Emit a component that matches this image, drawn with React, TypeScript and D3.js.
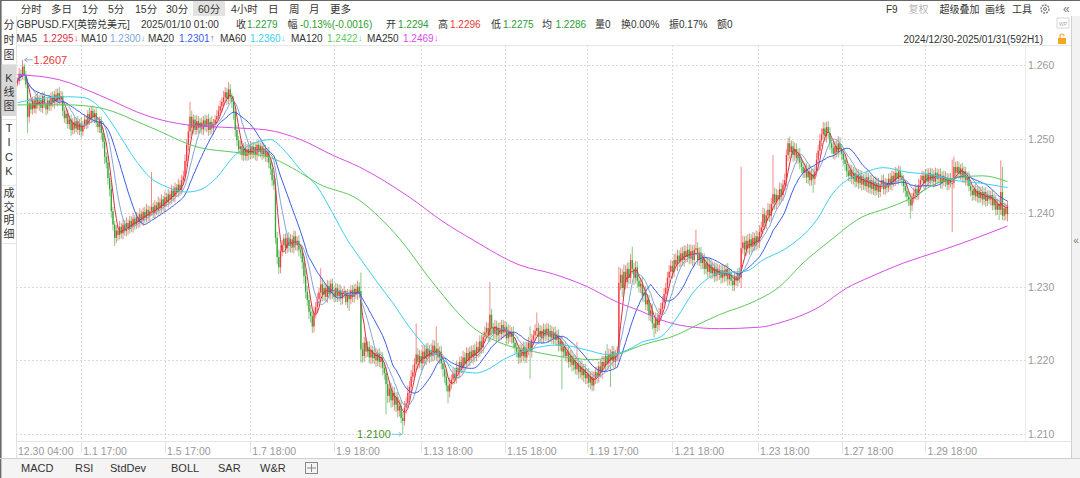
import React from 'react';
import * as d3 from 'd3';

// ---------- DATA (prices in pips above 1.2000, i.e. 1.2 + p/10000) ----------
const firstOpenPip = 575;
const closePips = [
  578, 588, 584, 598, 586, 574, 530, 548, 540, 552,
  541, 556, 546, 553, 542, 558, 547, 540, 552, 545,
  557, 549, 560, 551, 562, 553, 558, 538, 528, 534,
  520, 526, 512, 522, 514, 524, 512, 521, 510, 518,
  526, 520, 534, 527, 538, 529, 535, 522, 516, 524,
  508, 496, 476, 468, 447, 432, 402, 384, 366, 376,
  370, 381, 372, 384, 375, 386, 378, 389, 381, 392,
  384, 394, 387, 398, 390, 401, 393, 404, 396, 402,
  408, 399, 410, 403, 414, 406, 418, 409, 421, 414,
  425, 418, 430, 422, 434, 428, 438, 431, 444, 449,
  470, 492, 510, 530, 515, 526, 512, 524, 515, 522,
  513, 525, 516, 527, 512, 523, 514, 520, 526, 531,
  538, 544, 550, 556, 563, 554, 567, 556, 550, 536,
  512, 498, 486, 490, 478, 488, 477, 486, 479, 490,
  480, 489, 478, 492, 482, 490, 479, 487, 476, 482,
  468, 460, 444, 438, 366, 340, 326, 348, 356, 365,
  352, 366, 355, 364, 353, 368, 356, 362, 350, 346,
  333, 314, 293, 282, 266, 260, 246, 264, 272, 283,
  292, 303, 289, 298, 286, 301, 290, 304, 292, 286,
  298, 287, 295, 284, 291, 294, 279, 290, 283, 295,
  286, 297, 290, 300, 294, 215, 206, 224, 212, 218,
  204, 214, 203, 210, 200, 209, 198, 205, 190, 183,
  168, 152, 162, 146, 156, 140, 150, 132, 138, 122,
  118, 136, 142, 156, 164, 178, 184, 195, 208, 198,
  206, 196, 212, 202, 216, 205, 214, 206, 220, 208,
  216, 204, 212, 196, 188, 178, 166, 158, 168, 174,
  182, 176, 190, 184, 198, 190, 204, 196, 210, 200,
  212, 204, 214, 206, 218, 212, 226, 218, 232, 238,
  244, 234, 262, 244, 236, 246, 234, 244, 236, 248,
  238, 245, 230, 240, 232, 238, 224, 218, 212, 204,
  214, 206, 218, 204, 216, 224, 212, 228, 234, 240,
  244, 232, 240, 230, 242, 234, 243, 232, 240, 230,
  238, 228, 234, 220, 226, 212, 218, 206, 212, 198,
  206, 194, 200, 188, 196, 184, 192, 180, 188, 176,
  182, 170, 178, 166, 176, 184, 178, 192, 184, 198,
  192, 206, 196, 208, 200, 212, 198, 206, 210, 305,
  316, 298, 320, 306, 324, 312, 336, 324, 312, 326,
  308, 300, 304, 288, 292, 276, 282, 262, 268, 250,
  244, 256, 248, 262, 270, 278, 290, 298, 312, 320,
  328, 320, 336, 330, 342, 334, 345, 336, 348, 340,
  350, 338, 348, 336, 350, 352, 336, 346, 332, 338,
  324, 332, 320, 330, 318, 326, 314, 324, 316, 322,
  312, 322, 314, 324, 310, 318, 308, 302, 314, 308,
  318, 312, 352, 360, 350, 362, 352, 364, 354, 366,
  356, 368, 360, 374, 380, 398, 386, 396, 404, 396,
  412, 425, 414, 424, 418, 432, 424, 438, 444, 478,
  494, 482, 490, 478, 486, 474, 480, 468, 462, 454,
  460, 448, 456, 444, 452, 446, 456, 472, 484, 498,
  506, 514, 504, 516, 508, 494, 488, 480, 490, 482,
  494, 486, 480, 472, 466, 456, 450, 458, 446, 454,
  442, 452, 440, 450, 438, 446, 436, 448, 434, 444,
  432, 442, 430, 440, 428, 438, 444, 432, 440, 434,
  446, 438, 450, 442, 454, 446, 456, 448, 444, 436,
  430, 422, 418, 410, 420, 426, 432, 424, 438, 444,
  450, 440, 452, 442, 454, 444, 452, 442, 454, 446,
  452, 440, 450, 442, 448, 438, 446, 440, 440, 462,
  454, 462, 452, 460, 448, 456, 444, 448, 436, 430,
  424, 432, 422, 430, 420, 428, 418, 428, 416, 424,
  418, 424, 410, 418, 404, 412, 404, 428, 396, 406,
  398, 410,
];
// upper wick (pips above max(open, close))
const upWick = [
  5, 8, 6, 9, 4, 6, 8, 7, 6, 5,
  6, 5, 7, 6, 8, 5, 6, 7, 5, 8,
  6, 7, 5, 8, 6, 8, 7, 6, 5, 7,
  6, 5, 7, 6, 8, 5, 7, 6, 8, 6,
  7, 6, 5, 8, 6, 7, 5, 6, 8, 6,
  6, 7, 8, 6, 9, 7, 8, 6, 5, 7,
  6, 8, 5, 7, 6, 8, 5, 7, 6, 8,
  5, 7, 6, 8, 5, 6, 7, 8, 6, 7,
  47, 6, 7, 5, 8, 6, 7, 5, 8, 6,
  7, 5, 8, 6, 7, 5, 8, 6, 7, 8,
  9, 8, 10, 20, 8, 7, 6, 8, 7, 6,
  7, 6, 8, 5, 7, 6, 8, 7, 6, 8,
  7, 8, 6, 9, 7, 6, 10, 7, 6, 8,
  8, 7, 6, 8, 7, 6, 8, 7, 6, 7,
  6, 7, 5, 6, 7, 5, 6, 7, 5, 6,
  7, 6, 8, 7, 9, 8, 10, 8, 7, 6,
  7, 6, 8, 7, 6, 8, 7, 6, 8, 7,
  7, 8, 9, 8, 7, 9, 8, 9, 7, 8,
  7, 22, 8, 7, 6, 8, 7, 6, 7, 8,
  7, 6, 8, 7, 6, 7, 2, 7, 6, 7,
  7, 6, 7, 8, 6, 25, 9, 8, 7, 8,
  8, 7, 6, 8, 7, 6, 8, 7, 6, 7,
  8, 9, 10, 8, 9, 8, 7, 8, 9, 8,
  8, 9, 8, 10, 8, 9, 10, 8, 42, 9,
  8, 7, 9, 8, 7, 8, 7, 9, 8, 7,
  30, 8, 7, 8, 7, 8, 7, 8, 9, 7,
  8, 7, 9, 8, 7, 8, 9, 7, 8, 7,
  7, 8, 7, 9, 8, 7, 8, 9, 7, 8,
  8, 7, 44, 8, 7, 9, 8, 7, 8, 7,
  7, 8, 7, 9, 8, 7, 8, 7, 9, 8,
  8, 7, 8, 7, 9, 8, 22, 8, 7, 9,
  21, 7, 8, 7, 8, 7, 8, 7, 8, 7,
  7, 8, 7, 8, 7, 8, 7, 8, 7, 8,
  8, 7, 8, 7, 29, 8, 7, 8, 7, 8,
  7, 8, 7, 8, 9, 7, 8, 7, 9, 8,
  8, 7, 16, 8, 7, 8, 7, 8, 9, 22,
  9, 8, 10, 9, 8, 9, 8, 18, 8, 9,
  8, 9, 8, 9, 8, 9, 8, 7, 8, 9,
  8, 9, 8, 9, 8, 9, 8, 7, 8, 9,
  8, 7, 8, 9, 8, 7, 8, 9, 8, 7,
  8, 7, 9, 8, 7, 25, 8, 7, 8, 7,
  7, 8, 7, 8, 7, 8, 7, 8, 7, 8,
  7, 8, 7, 6, 8, 7, 6, 8, 7, 6,
  7, 8, 110, 9, 8, 7, 9, 8, 7, 8,
  7, 8, 7, 9, 8, 9, 8, 7, 9, 8,
  8, 53, 9, 8, 7, 9, 8, 7, 9, 8,
  7, 9, 8, 7, 9, 8, 7, 8, 7, 8,
  8, 7, 8, 9, 7, 8, 7, 9, 8, 9,
  8, 9, 8, 7, 8, 8, 7, 8, 7, 8,
  10, 8, 7, 8, 7, 8, 7, 8, 7, 8,
  7, 8, 7, 8, 7, 6, 8, 7, 6, 7,
  7, 6, 7, 8, 7, 6, 7, 8, 7, 6,
  7, 8, 7, 6, 8, 7, 8, 7, 6, 7,
  7, 8, 7, 8, 7, 8, 7, 6, 8, 7,
  7, 6, 7, 8, 6, 7, 8, 6, 7, 6,
  7, 8, 6, 7, 8, 6, 7, 8, 32, 14,
  7, 8, 7, 6, 8, 7, 6, 7, 8, 7,
  7, 6, 8, 7, 6, 7, 8, 6, 7, 6,
  7, 6, 7, 8, 6, 7, 7, 43, 34, 8,
  7, 6,
];
// lower wick (pips below min(open, close))
const downWick = [
  4, 5, 6, 4, 7, 5, 22, 8, 6, 7,
  6, 7, 5, 8, 6, 7, 5, 8, 6, 7,
  7, 6, 8, 5, 7, 6, 8, 7, 6, 8,
  6, 7, 8, 6, 7, 5, 6, 7, 8, 6,
  5, 7, 6, 8, 6, 7, 8, 6, 7, 8,
  8, 9, 10, 8, 9, 10, 9, 8, 11, 7,
  8, 6, 7, 8, 6, 7, 8, 6, 7, 8,
  7, 6, 8, 7, 6, 8, 7, 6, 8, 7,
  6, 7, 8, 6, 7, 8, 6, 7, 8, 6,
  7, 8, 6, 7, 8, 6, 7, 8, 6, 7,
  6, 7, 8, 9, 10, 8, 7, 6, 8, 7,
  7, 8, 6, 7, 8, 6, 7, 8, 6, 7,
  6, 7, 8, 6, 7, 8, 7, 6, 8, 10,
  9, 8, 7, 8, 7, 8, 6, 7, 8, 7,
  7, 6, 7, 8, 6, 7, 8, 6, 7, 8,
  8, 9, 8, 7, 8, 10, 9, 8, 7, 8,
  8, 7, 8, 9, 7, 8, 7, 8, 9, 8,
  9, 10, 9, 8, 10, 9, 9, 8, 7, 8,
  8, 7, 9, 8, 7, 8, 7, 8, 9, 7,
  7, 8, 7, 9, 8, 7, 4, 8, 16, 7,
  7, 8, 7, 8, 9, 18, 9, 8, 9, 7,
  8, 9, 7, 8, 9, 8, 7, 9, 10, 9,
  41, 10, 9, 10, 9, 8, 10, 9, 8, 7,
  18, 6, 8, 7, 9, 8, 7, 9, 8, 10,
  8, 9, 8, 9, 8, 7, 9, 8, 7, 8,
  8, 7, 9, 8, 10, 9, 8, 16, 8, 7,
  7, 8, 7, 9, 8, 7, 8, 9, 7, 8,
  8, 7, 9, 8, 7, 8, 7, 9, 8, 7,
  7, 8, 9, 10, 8, 7, 9, 8, 7, 8,
  8, 7, 9, 8, 7, 9, 8, 9, 8, 9,
  8, 9, 7, 8, 7, 9, 37, 8, 7, 8,
  7, 8, 7, 8, 7, 8, 7, 8, 7, 8,
  8, 7, 9, 8, 7, 51, 8, 7, 9, 8,
  7, 9, 8, 7, 8, 9, 8, 7, 9, 8,
  8, 7, 9, 8, 7, 8, 9, 8, 7, 9,
  7, 8, 9, 8, 36, 8, 9, 8, 7, 11,
  10, 12, 9, 10, 8, 9, 8, 7, 10, 8,
  9, 8, 9, 8, 9, 8, 9, 8, 9, 8,
  13, 8, 9, 8, 9, 8, 7, 8, 9, 8,
  8, 9, 7, 8, 9, 8, 7, 8, 9, 8,
  7, 8, 7, 8, 9, 8, 7, 8, 9, 8,
  8, 7, 8, 7, 8, 7, 8, 7, 8, 7,
  8, 7, 8, 7, 9, 8, 7, 8, 8, 7,
  8, 7, 14, 8, 9, 8, 7, 9, 8, 7,
  8, 7, 9, 8, 7, 9, 10, 8, 7, 9,
  9, 8, 10, 9, 8, 7, 9, 8, 7, 8,
  8, 9, 8, 9, 8, 7, 8, 9, 8, 7,
  7, 8, 9, 8, 7, 19, 8, 7, 8, 7,
  8, 7, 8, 9, 8, 9, 8, 7, 8, 7,
  7, 8, 9, 8, 9, 8, 7, 8, 7, 8,
  8, 7, 8, 7, 8, 7, 6, 8, 7, 8,
  7, 8, 7, 6, 8, 7, 6, 7, 8, 7,
  6, 7, 8, 7, 6, 7, 8, 7, 8, 9,
  9, 8, 9, 18, 8, 7, 8, 7, 6, 7,
  6, 7, 8, 6, 7, 6, 7, 8, 6, 7,
  6, 7, 8, 6, 7, 8, 7, 6, 66, 7,
  8, 7, 6, 8, 7, 8, 7, 8, 7, 8,
  8, 7, 6, 8, 7, 6, 8, 7, 8, 7,
  6, 8, 7, 6, 8, 7, 14, 7, 6, 7,
  8, 10,
];

// Long moving averages: [candle index, value]
const ma60Pts: [number, number][] = [
  [0, 1.2549], [9, 1.2553], [30, 1.2557], [39, 1.2556], [49, 1.2543], [59, 1.2512],
  [69, 1.2476], [79, 1.2448], [89, 1.2435], [101, 1.2428], [109, 1.2431], [119, 1.2448],
  [129, 1.2476], [141, 1.2494], [151, 1.2499], [159, 1.2485], [169, 1.2458], [179, 1.2435],
  [188, 1.2400], [197, 1.2363], [204, 1.2340], [215, 1.2305], [224, 1.2278], [234, 1.2245],
  [244, 1.2218], [254, 1.2201], [264, 1.2186], [274, 1.2183], [280, 1.2187], [290, 1.2201],
  [304, 1.2214], [324, 1.2221], [340, 1.2214], [352, 1.2208], [364, 1.2214], [373, 1.2225],
  [384, 1.2232], [394, 1.2259], [403, 1.2291], [413, 1.2312], [419, 1.2318], [435, 1.2321],
  [445, 1.2336], [459, 1.2352], [477, 1.2390], [487, 1.2427], [495, 1.2444], [505, 1.2454],
  [517, 1.2461], [531, 1.2455], [547, 1.2451], [559, 1.2444], [575, 1.2440], [591, 1.2434],
];
const ma120Pts: [number, number][] = [
  [0, 1.2546], [30, 1.2546], [49, 1.2542], [79, 1.2516], [109, 1.2488], [129, 1.2482],
  [149, 1.2476], [169, 1.2454], [179, 1.2440], [204, 1.2417], [216, 1.2394], [228, 1.2365],
  [248, 1.2305], [274, 1.2241], [288, 1.2224], [308, 1.2212], [328, 1.2204], [344, 1.2201],
  [358, 1.2208], [373, 1.2221], [394, 1.2235], [403, 1.2245], [419, 1.2262], [439, 1.2279],
  [455, 1.2300], [469, 1.2332], [485, 1.2362], [504, 1.2394], [519, 1.2406], [531, 1.2417],
  [549, 1.2440], [563, 1.2448], [576, 1.2450], [591, 1.2442],
];
const ma250Pts: [number, number][] = [
  [0, 1.2587], [25, 1.2580], [49, 1.2559], [79, 1.2530], [101, 1.2519], [129, 1.2515],
  [149, 1.2512], [169, 1.2499], [188, 1.2478], [204, 1.2462], [234, 1.2421], [254, 1.2388],
  [272, 1.2363], [300, 1.2329], [320, 1.2317], [340, 1.2300], [358, 1.2279], [373, 1.2266],
  [384, 1.2255], [400, 1.2246], [419, 1.2243], [443, 1.2245], [455, 1.2251], [479, 1.2273],
  [495, 1.2298], [509, 1.2313], [529, 1.2332], [549, 1.2347], [569, 1.2363], [591, 1.2382],
];

const yTicks = [1.21, 1.22, 1.23, 1.24, 1.25, 1.26];
const firstTimeLabel = '12.30 04:00';
const xTickIdx = [38, 88, 139, 189, 241, 291, 340, 391, 442, 492, 542];
const xTickLabels = ['1.1 17:00', '1.5 17:00', '1.7 18:00', '1.9 18:00', '1.13 18:00', '1.15 18:00',
  '1.19 17:00', '1.21 18:00', '1.23 18:00', '1.27 18:00', '1.29 18:00'];

const periods = ['分时', '多日', '1分', '5分', '15分', '30分', '60分', '4小时', '日', '周', '月', '更多'];
const selectedPeriod = '60分';
const toolsRight = ['F9', '复权', '超级叠加', '画线', '工具'];
const sideTabs = [['分', '时', '图'], ['K', '线', '图'], ['T', 'I', 'C', 'K'], ['成', '交', '明', '细']];
const indicatorTabs = ['MACD', 'RSI', 'StdDev', 'BOLL', 'SAR', 'W&R'];

const infoItems: [string, string][] = [
  ['GBPUSD.FX[英镑兑美元]', 'text'], ['2025/01/10 01:00', 'text'],
  ['收', 'text'], ['1.2279', 'down'], ['幅', 'text'], ['-0.13%(-0.0016)', 'down'],
  ['开', 'text'], ['1.2294', 'down'], ['高', 'text'], ['1.2296', 'up'],
  ['低', 'text'], ['1.2275', 'down'], ['均', 'text'], ['1.2286', 'down'],
  ['量0', 'text'], ['换0.00%', 'text'], ['振0.17%', 'text'], ['额0', 'text'],
];
const maNames = ['MA5', 'MA10', 'MA20', 'MA60', 'MA120', 'MA250'];
const maLegendValues = ['1.2295', '1.2300', '1.2301', '1.2360', '1.2422', '1.2469'];
const maLegendArrows = ['↓', '↓', '↑', '↓', '↓', '↓'];
const rangeText = '2024/12/30-2025/01/31(592H1)';

// ---------- LAYOUT / STYLE ----------
const W = 1080, H = 478;
const FONT = '"Liberation Sans", "Noto Sans CJK SC", Arial, sans-serif';
const UP = '#f23a3a', DOWN = '#35a635';
const MA_COLORS = ['#d9304a', '#7fa6d8', '#3c5ce6', '#3ccfee', '#5cc95c', '#d94ce6'];
const TEXT = '#333';
const plot = { left: 16, right: 1025, top: 45, bottom: 441 };
const periodX = [20.7, 51, 82, 108, 135, 166, 198, 231, 268, 289, 309, 330];
const toolsRightX = [886, 908.5, 939.5, 985, 1012];
const infoX = [16.5, 141, 236, 247, 287.6, 300, 386, 398, 438, 450, 491, 503, 542, 555.5, 595, 621, 669, 717];
const maNameX = [16.5, 81, 148, 220, 291, 367];
const maValX = [43, 110, 179, 250, 327, 403];
const sideTabY = [[25, 40, 55], [78, 92, 106], [128, 142, 157, 171], [193, 207, 220, 234]];
const indicatorX = [21, 75, 110, 171, 218, 260];

export default function App() {
  const n = closePips.length;
  const candles = closePips.map((c, i) => {
    const o = i === 0 ? firstOpenPip : closePips[i - 1];
    const hi = Math.max(o, c) + upWick[i];
    const lo = Math.min(o, c) - downWick[i];
    return { i, o: 1.2 + o / 1e4, c: 1.2 + c / 1e4, h: 1.2 + hi / 1e4, l: 1.2 + lo / 1e4 };
  });

  const x = d3.scaleLinear().domain([0, n - 1]).range([17.5, 1007.5]);
  const y = d3.scaleLinear().domain([1.21, 1.26]).range([434.3, 65]);

  const sma = (p: number): [number, number][] =>
    candles.map((d, i) => {
      const s = Math.max(0, i - p + 1);
      return [i, d3.mean(candles.slice(s, i + 1), (e) => e.c) as number];
    });

  const straight = d3.line<[number, number]>().x((d) => x(d[0])).y((d) => y(d[1]));
  const smooth = d3
    .line<[number, number]>()
    .x((d) => x(d[0]))
    .y((d) => y(d[1]))
    .curve(d3.curveMonotoneX);

  const maPaths = [
    straight(sma(5)),
    straight(sma(10)),
    straight(sma(20)),
    smooth(ma60Pts),
    smooth(ma120Pts),
    smooth(ma250Pts),
  ];

  const hiIdx = d3.maxIndex(candles, (d) => d.h);
  const loIdx = d3.minIndex(candles, (d) => d.l);
  const hiC = candles[hiIdx];
  const loC = candles[loIdx];

  const gridX = xTickIdx.map((i) => x(i));

  return (
    <svg
      width={W}
      height={H}
      style={{ position: 'fixed', left: 0, top: 0, background: '#fff', fontFamily: FONT }}
    >
      <defs>
        <clipPath id="plotClip">
          <rect x={plot.left} y={plot.top} width={plot.right - plot.left} height={plot.bottom - plot.top} />
        </clipPath>
      </defs>
      <rect x={0} y={0} width={W} height={H} fill="#fff" />

      {/* top toolbar */}
      <line x1={0} x2={W} y1={0.5} y2={0.5} stroke="#666" />
      {periods.map((p, k) => (
        <g key={p}>
          {p === selectedPeriod && (
            <rect x={periodX[k] - 5} y={1} width={32} height={15} fill="#e2e2e2" />
          )}
          <text x={periodX[k]} y={9} fontSize={10.5} fill={TEXT} dominantBaseline="central">
            {p}
          </text>
        </g>
      ))}
      {toolsRight.map((t, k) => (
        <text key={t} x={toolsRightX[k]} y={9} fontSize={10} fill={t === '复权' ? '#b5b5b5' : TEXT} dominantBaseline="central">
          {t}
        </text>
      ))}
      <g transform="translate(1045,9)">
        <circle r={4} fill="none" stroke="#777" strokeWidth={1.3} strokeDasharray="2,1" />
        <circle r={1.5} fill="none" stroke="#777" strokeWidth={1} />
      </g>
      <text x={1063} y={9} fontSize={12} fill="#777" dominantBaseline="central">«</text>

      {/* info row */}
      {infoItems.map(([t, kind], k) => (
        <text
          key={k}
          x={infoX[k]}
          y={24}
          fontSize={10}
          fill={kind === 'up' ? '#e53935' : kind === 'down' ? '#2e9d35' : TEXT}
          dominantBaseline="central"
        >
          {t}
        </text>
      ))}
      <rect x={1057} y={18} width={12} height={10} fill="none" stroke="#ccc" strokeWidth={0.8} />
      <text x={1063} y={23.5} fontSize={5} fill="#aaa" textAnchor="middle" dominantBaseline="central">WP</text>

      {/* MA legend row */}
      {maNames.map((m, k) => (
        <g key={m}>
          <text x={maNameX[k]} y={38} fontSize={10} fill={TEXT} dominantBaseline="central">{m}</text>
          <text x={maValX[k]} y={38} fontSize={10} fill={MA_COLORS[k]} dominantBaseline="central">
            {maLegendValues[k]}
            <tspan fontSize={9} dx={0.5}>{maLegendArrows[k]}</tspan>
          </text>
        </g>
      ))}
      <text x={1043} y={39} fontSize={10} fill={TEXT} textAnchor="end" dominantBaseline="central">
        {rangeText}
      </text>
      <g transform="translate(1058,35)">
        <rect x={0} y={3} width={8} height={6} fill="#f5a623" />
        <path d="M2,3 V1 A2,2 0 0 1 6,1" fill="none" stroke="#f5a623" strokeWidth={1.2} />
      </g>

      {/* left sidebar */}
      <rect x={0} y={0} width={1.6} height={H} fill="#6a6a6a" />
      <rect x={1.6} y={65} width={14.4} height={51} fill="#d8d8d8" />
      <line x1={16.5} x2={16.5} y1={16} y2={458} stroke="#e2e2e2" />
      {[64.5, 119.5, 185.5, 243.5].map((yy) => (
        <line key={yy} x1={2} x2={16} y1={yy} y2={yy} stroke="#e6e6e6" />
      ))}
      {sideTabs.map((chars, k) =>
        chars.map((ch, j) => (
          <text key={`${k}-${j}`} x={9} y={sideTabY[k][j]} fontSize={11} fill={TEXT} textAnchor="middle" dominantBaseline="central">
            {ch}
          </text>
        )),
      )}

      {/* plot frame and grid */}
      <line x1={plot.left} x2={1072} y1={plot.top + 0.5} y2={plot.top + 0.5} stroke="#e6e6e6" />
      {yTicks.map((t) => (
        <g key={t}>
          <line x1={plot.left} x2={plot.right} y1={Math.round(y(t)) + 0.5} y2={Math.round(y(t)) + 0.5} stroke="#d9d9d9" strokeDasharray="2,2" />
          <text x={1028} y={y(t)} fontSize={10.5} fill="#999" dominantBaseline="central">
            {d3.format('.3f')(t)}
          </text>
        </g>
      ))}
      {gridX.map((gx, k) => (
        <g key={k}>
          <line x1={Math.round(gx) + 0.5} x2={Math.round(gx) + 0.5} y1={plot.top} y2={plot.bottom} stroke="#d9d9d9" strokeDasharray="2,2" />
          <line x1={Math.round(gx) + 0.5} x2={Math.round(gx) + 0.5} y1={plot.bottom} y2={453} stroke="#e2e2e2" />
          <text x={gx + 2} y={450.5} fontSize={10.5} fill="#999" dominantBaseline="central">
            {xTickLabels[k]}
          </text>
        </g>
      ))}
      <text x={18} y={450.5} fontSize={10.5} fill="#999" dominantBaseline="central">{firstTimeLabel}</text>
      <line x1={plot.right + 0.5} x2={plot.right + 0.5} y1={plot.top} y2={plot.bottom} stroke="#ececec" />
      <line x1={plot.left} x2={1072} y1={plot.bottom + 0.5} y2={plot.bottom + 0.5} stroke="#e6e6e6" />

      {/* candles */}
      <g clipPath="url(#plotClip)">
        {candles.map((d) => {
          const col = d.c >= d.o ? UP : DOWN;
          const cx = x(d.i);
          const top = y(Math.max(d.o, d.c));
          const bot = y(Math.min(d.o, d.c));
          return (
            <g key={d.i}>
              <line x1={cx} x2={cx} y1={y(d.h)} y2={y(d.l)} stroke={col} strokeWidth={1} strokeOpacity={0.6} />
              <rect x={cx - 0.65} y={top} width={1.3} height={Math.max(1, bot - top)} fill={col} />
            </g>
          );
        })}
        {maPaths.map((p, k) => (
          <path key={k} d={p || ''} fill="none" stroke={MA_COLORS[k]} strokeWidth={1} />
        ))}
      </g>

      {/* extreme price markers */}
      <line x1={x(hiIdx) + 2} x2={x(hiIdx) + 10} y1={y(hiC.h)} y2={y(hiC.h)} stroke="#8ab4d8" />
      <path d={`M${x(hiIdx) + 2},${y(hiC.h)} l3,-2 M${x(hiIdx) + 2},${y(hiC.h)} l3,2`} stroke="#8ab4d8" fill="none" />
      <text x={x(hiIdx) + 11} y={y(hiC.h)} fontSize={11} fill="#e53935" dominantBaseline="central">
        {hiC.h.toFixed(4)}
      </text>
      <line x1={x(loIdx) - 11} x2={x(loIdx) - 1} y1={y(loC.l)} y2={y(loC.l)} stroke="#7cc6de" />
      <path d={`M${x(loIdx) - 1},${y(loC.l)} l-3,-2 M${x(loIdx) - 1},${y(loC.l)} l-3,2`} stroke="#7cc6de" fill="none" />
      <text x={x(loIdx) - 12} y={y(loC.l)} fontSize={11} fill="#4e8f2a" textAnchor="end" dominantBaseline="central">
        {loC.l.toFixed(4)}
      </text>

      {/* right strip */}
      <rect x={1072} y={16} width={8} height={442} fill="#f2f2f2" />
      <line x1={1071.5} x2={1071.5} y1={16} y2={458} stroke="#d0d0d0" />
      <text x={1076} y={240} fontSize={10} fill="#777" textAnchor="middle" dominantBaseline="central">«</text>

      {/* indicator tab bar */}
      <rect x={1.6} y={458} width={W} height={20} fill="#f4f4f4" />
      <line x1={0} x2={W} y1={458.5} y2={458.5} stroke="#cfcfcf" />
      {indicatorTabs.map((t, k) => (
        <text key={t} x={indicatorX[k]} y={468} fontSize={11} fill={TEXT} dominantBaseline="central">{t}</text>
      ))}
      <rect x={305.5} y={462.5} width={12} height={11} fill="none" stroke="#888" />
      <line x1={311.5} x2={311.5} y1={464} y2={472} stroke="#888" />
      <line x1={307} x2={316} y1={468} y2={468} stroke="#888" />
    </svg>
  );
}
